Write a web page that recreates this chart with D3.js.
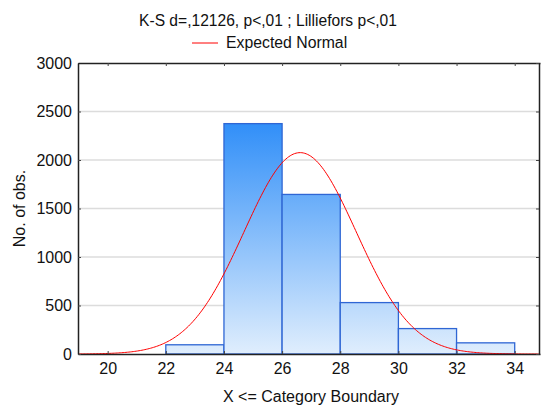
<!DOCTYPE html>
<html>
<head>
<meta charset="utf-8">
<script src="https://cdn.jsdelivr.net/npm/d3@7"></script>
<style>
  body { margin: 0; background: #fff; }
  svg { font-family: "Liberation Sans", Arial, sans-serif; }
</style>
</head>
<body>
<div id="chart"></div>
<script>
// histogram bins (upper boundary) and counts
var binStarts = [20, 22, 24, 26, 28, 30, 32];
var binEnds   = [22, 24, 26, 28, 30, 32, 34];
var counts    = [0, 95, 2375, 1645, 530, 262, 115];
var xTicks = [20, 22, 24, 26, 28, 30, 32, 34];
var yTicks = [0, 500, 1000, 1500, 2000, 2500, 3000];
// expected normal parameters
var normMean = 26.62, normSd = 1.93, binWidth = 2;

var width = 541, height = 409,
    margin = {top: 63, right: 1, bottom: 55, left: 78};
var innerW = width - margin.left - margin.right,
    innerH = height - margin.top - margin.bottom;

var svg = d3.select("#chart").append("svg")
  .attr("width", width).attr("height", height);

var x = d3.scaleLinear().domain([18.98, 34.87]).range([0, innerW]);
var y = d3.scaleLinear().domain([0, 3000]).range([innerH, 0]);

var defs = svg.append("defs");
var grad = defs.append("linearGradient")
  .attr("id", "barFill")
  .attr("gradientUnits", "userSpaceOnUse")
  .attr("x1", 0).attr("x2", 0)
  .attr("y1", y(2375)).attr("y2", y(0));
grad.append("stop").attr("offset", "0%").attr("stop-color", "#318ff8");
grad.append("stop").attr("offset", "100%").attr("stop-color", "#e0eefd");

var g = svg.append("g").attr("transform", `translate(${margin.left},${margin.top})`);

// gridlines
g.append("g").selectAll("line")
  .data(yTicks.filter(d => d > 0 && d < 3000))
  .enter().append("line")
  .attr("x1", 0).attr("x2", innerW)
  .attr("y1", d => y(d)).attr("y2", d => y(d))
  .style("stroke", "#dcdcdc").style("stroke-width", 1.5);

// bars
var bins = binStarts.map((s, i) => ({x0: s, x1: binEnds[i], n: counts[i]}));
g.append("g").selectAll("rect")
  .data(bins.filter(d => d.n > 0))
  .enter().append("rect")
  .attr("x", d => x(d.x0))
  .attr("y", d => y(d.n))
  .attr("width", d => x(d.x1) - x(d.x0))
  .attr("height", d => y(0) - y(d.n))
  .style("fill", "url(#barFill)")
  .style("stroke", "#2f66d4")
  .style("stroke-width", 1.3);

// expected normal curve
var curveX = d3.range(18.98, 34.88, 0.05);
var peak = d3.sum(counts) * binWidth / (normSd * Math.sqrt(2 * Math.PI));
var line = d3.line()
  .x(d => x(d))
  .y(d => y(peak * Math.exp(-0.5 * Math.pow((d - normMean) / normSd, 2))))
  .curve(d3.curveBasis);
g.append("path")
  .datum(curveX)
  .attr("d", line)
  .style("fill", "none")
  .style("stroke", "#ff0000")
  .style("stroke-width", 1);

// axes
var xAxis = d3.axisBottom(x).tickValues(xTicks).tickSize(-3).tickPadding(9).tickSizeOuter(0);
var yAxis = d3.axisLeft(y).tickValues(yTicks).tickSize(-3).tickPadding(6)
  .tickFormat(d3.format("d")).tickSizeOuter(0);
var xTop = d3.axisTop(x).tickValues(xTicks).tickSize(-3).tickFormat("").tickSizeOuter(0);
var yRight = d3.axisRight(y).tickValues(yTicks).tickSize(-3).tickFormat("").tickSizeOuter(0);

g.append("g").attr("class", "x axis")
  .attr("transform", `translate(0,${innerH})`).call(xAxis);
g.append("g").attr("class", "y axis").call(yAxis);
g.append("g").call(xTop);
g.append("g").attr("transform", `translate(${innerW - 1},0)`).call(yRight);

g.selectAll(".domain").style("stroke", "#222").style("stroke-width", 1.5);
g.selectAll(".tick line").style("stroke", "#444");
g.selectAll(".tick text").style("font-size", "16px").style("fill", "#111")
  .style("font-family", "'Liberation Sans', Arial, sans-serif");

// titles
svg.append("text").attr("x", 268).attr("y", 26)
  .attr("text-anchor", "middle").style("font-size", "15.6px").style("fill", "#111")
  .text("K-S d=,12126, p<,01 ; Lilliefors p<,01");
svg.append("line").attr("x1", 192).attr("x2", 218).attr("y1", 43).attr("y2", 43)
  .style("stroke", "#ff0000").style("stroke-width", 1);
svg.append("text").attr("x", 226).attr("y", 48)
  .style("font-size", "15.8px").style("fill", "#111")
  .text("Expected Normal");

svg.append("text")
  .attr("transform", `translate(25,${margin.top + innerH / 2}) rotate(-90)`)
  .attr("text-anchor", "middle").style("font-size", "16px").style("fill", "#111")
  .text("No. of obs.");
svg.append("text").attr("x", 311).attr("y", 402)
  .attr("text-anchor", "middle").style("font-size", "16px").style("fill", "#111")
  .text("X <= Category Boundary");
</script>
</body>
</html>
